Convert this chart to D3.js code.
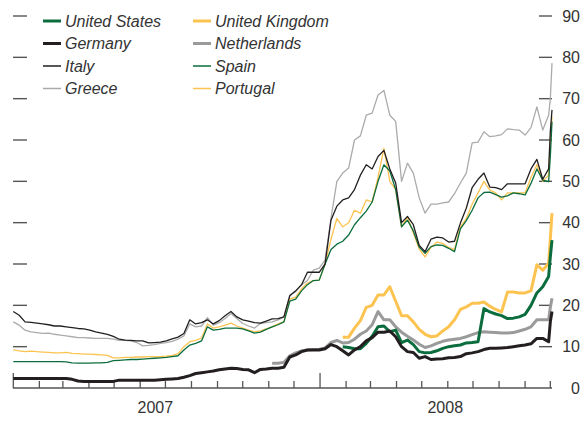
<!DOCTYPE html>
<html><head><meta charset="utf-8">
<script src="https://cdn.jsdelivr.net/npm/d3@7"></script>
<style>
html,body{margin:0;padding:0;background:#fff;}
svg{display:block;font-family:"Liberation Sans",Arial,Helvetica,sans-serif;}
</style></head>
<body><svg id="chart" width="586" height="422"></svg>
<script>
// Weekly observation dates (Mondays from 1 Jan 2007) plus the last days of the sample
const startDate = new Date(2007, 0, 1);
const weeklyDates = d3.range(92).map(i => d3.timeDay.offset(startDate, 7 * i));
const dates = weeklyDates.concat([new Date(2008, 9, 1), new Date(2008, 9, 3)]);

const greece = [16,15.2,14,13.6,13.4,13.2,13.3,13,12.8,12.6,
12.4,12.2,12.2,12.1,12,12,12,11.8,11.5,11.5,
11.4,11,10.2,10.3,10.5,10.8,11,11.3,11.8,12.6,
15.5,14.8,15,17,15.2,15.8,16.8,18,16.8,15.6,
15,14.5,15.6,15.8,16,16.5,17.2,22.5,23.3,25,
26,28.5,29,31,41,50,52,53.2,60,61,
66,66.5,70.9,72,66,64.5,50,54.4,52,46,
42.3,44.5,44.5,44.8,45,47,49.6,52,59.3,59.5,
62,60.8,61,61.3,62.7,62.5,62.4,61.2,63,68,
62.4,66,70,78.6];

const italy = [18.5,17.6,16,15.9,15.7,15.5,15.3,15,15,14.8,
14.6,14.4,14.3,14,13.6,13.3,13,12.5,11.8,11.6,
11.5,11.4,11.4,10.9,11,11.1,11.4,11.9,12.3,13.2,
16.5,15.5,15.8,16.5,15.5,16.3,17.5,18.5,17.2,16.5,
16.2,15.8,15.7,16.2,16.7,16.8,17.2,22.3,23.5,25,
28,28,28,30,40.6,44,45.5,46,48,51.5,
54,53,56,57.5,53,49.6,40,41.5,39.5,34.5,
33,36,36.5,36.3,35.3,35.5,39.9,43.5,48.5,50.5,
52,48.6,48.5,48,49.4,49.4,49.4,49.4,53,55.3,
50.5,53,62,67.3];

const portugal = [9.2,9.0,8.8,8.9,8.8,8.7,8.6,8.5,8.5,8.6,
8.4,8.3,8.2,8.2,8.1,8.0,7.9,7.3,7.3,7.4,
7.4,7.5,7.5,7.6,7.6,7.6,7.7,7.9,8.3,10,
11.2,11.5,12.1,15.5,14.5,14.8,15.2,15.7,15,14.5,
14,13.6,13.8,14.3,14.8,15.5,16,21.5,22,24,
25.4,26,26.1,30,36,41,39,40,43,42.3,
45.5,45,51,58,50,48,39,41.4,37.5,33.6,
31.7,34,35.3,35,34,33.5,39,41,44.5,47.2,
50,47.9,47.2,45.5,47.2,47.2,47.2,47.2,51,54,
50,51.5,60,65.6];

const spain = [6.4,6.4,6.4,6.4,6.4,6.4,6.4,6.4,6.4,6.3,
6.1,6.0,6.0,6.0,6.1,6.1,6.2,6.6,6.7,6.8,
6.9,6.9,7.0,7.1,7.2,7.3,7.4,7.6,7.8,9.2,
10.4,10.8,11.4,14.8,14,14.2,14.5,14.5,14.5,14.3,
13.8,13.3,13.5,14.2,14.8,15.3,16,21,21.5,23.5,
25,26,26.1,30,33.5,34.8,35.5,37,39.5,41.2,
42.8,45,50,54,52.5,48,39,40.6,38,34.1,
32.6,34.2,34.6,34.5,33.8,33,38.5,40.5,43,46,
47.3,47.4,46.8,46.2,46.5,47.2,47,46.7,49.5,53,
50.3,49.9,56,64.4];

const germany = [2.3,2.3,2.3,2.3,2.3,2.3,2.3,2.3,2.3,2.3,
2.1,1.7,1.6,1.6,1.6,1.6,1.6,1.6,1.9,1.9,
1.9,1.9,1.9,1.9,1.9,2.0,2.1,2.2,2.3,2.6,
3.0,3.5,3.7,3.9,4.1,4.4,4.6,4.8,4.7,4.5,
4.4,3.7,4.5,4.6,4.8,4.8,5,7.5,8,8.8,
9.2,9.2,9.2,9.5,10.5,10,9,8,9.2,10,
11.4,12.2,13.5,13.5,13.8,12.4,10,8.8,8.6,7.2,
7.6,6.9,7,7.1,7.3,7.4,7.6,8.3,8.5,8.8,
9.3,9.6,9.6,9.7,9.8,10,10.2,10.4,10.7,12,
12,11.2,16,18.5];

const N = null;
const netherlands = [N,N,N,N,N,N,N,N,N,N, N,N,N,N,N,N,N,N,N,N,
N,N,N,N,N,N,N,N,N,N, N,N,N,N,N,N,N,N,N,N,
N,N,N,N,6,6,6.2,7.8,8.5,9,
9.2,9.3,9.4,9.7,11,11.5,10.9,11,11.8,13,
13.8,15.3,18.5,16.5,16.5,14.8,13.5,12.5,11.6,10.6,
9.8,10.2,10.8,11.3,11.6,11.8,12,12.4,12.9,13.4,
13.6,13.5,13.4,13.3,13.3,13.4,13.8,14.2,14.8,16.5,
16.5,16.5,19.5,21.7];

const uk = [N,N,N,N,N,N,N,N,N,N, N,N,N,N,N,N,N,N,N,N,
N,N,N,N,N,N,N,N,N,N, N,N,N,N,N,N,N,N,N,N,
N,N,N,N,N,N,N,N,N,N, N,N,N,N,N,N,12.3,12.3,14.5,16.3,
19.5,20,22.5,22.5,24.5,21,17.5,17.5,16,14.2,
13,12.4,12.6,13.8,14.8,16.5,19,19.6,20.5,20.5,
20.8,19.8,19,18.4,23.2,23.2,23,23,23.5,29.8,
28.5,30.2,36,42.3];

const us = [N,N,N,N,N,N,N,N,N,N, N,N,N,N,N,N,N,N,N,N,
N,N,N,N,N,N,N,N,N,N, N,N,N,N,N,N,N,N,N,N,
N,N,N,N,N,N,N,N,N,N, N,N,N,N,N,N,10,9.8,9.5,9.5,
10.8,12.5,14.8,15,13.6,14,11,11.6,10.5,8.8,
8.5,8.6,9,9.6,10,10.2,10.4,10.9,11,11.2,
19.2,18.4,17.9,17.5,16.8,16.9,17.2,17.8,20,23,
24.5,27,31.7,35.8];

const yTicks = [0,10,20,30,40,50,60,70,80,90];
const yearLabels = ["2007","2008"];
const yearLabelDates = [new Date(2007,5,19), new Date(2008,4,29)];

const legendNames = ["United States","Germany","Italy","Greece","United Kingdom","Netherlands","Spain","Portugal"];

// styles
const GREEN = "#0b6d3d", YELLOW = "#fdc350", BLACK = "#231f20", GRAY = "#9a9a9a", LGRAY = "#ababab";
const series = [
  {name:"Greece", values:greece, color:LGRAY, w:1.3},
  {name:"Portugal", values:portugal, color:YELLOW, w:1.3},
  {name:"Spain", values:spain, color:GREEN, w:1.3},
  {name:"Italy", values:italy, color:BLACK, w:1.3},
  {name:"United Kingdom", values:uk, color:YELLOW, w:3},
  {name:"Netherlands", values:netherlands, color:GRAY, w:3},
  {name:"United States", values:us, color:GREEN, w:3},
  {name:"Germany", values:germany, color:BLACK, w:3}
];
const styleByName = {};
series.forEach(s => styleByName[s.name] = s);

const svg = d3.select("#chart");
const x = d3.scaleTime().domain([startDate, new Date(2008,9,3)]).range([13.3, 552]);
const y = d3.scaleLinear().domain([0, 90]).range([388, 16]);

// horizontal tick marks at both sides
const AX = "#555";
svg.append("g").selectAll("line.lt").data(yTicks.filter(d => d > 0)).join("line")
  .attr("x1", 13).attr("x2", 27).attr("y1", d => y(d)).attr("y2", d => y(d))
  .attr("stroke", AX).attr("stroke-width", 1.4);
svg.append("g").selectAll("line.rt").data(yTicks.filter(d => d > 0)).join("line")
  .attr("x1", 539).attr("x2", 552).attr("y1", d => y(d)).attr("y2", d => y(d))
  .attr("stroke", AX).attr("stroke-width", 1.4);
svg.append("g").selectAll("text").data(yTicks).join("text")
  .attr("x", 580).attr("y", d => y(d)).attr("dy", "0.36em")
  .attr("text-anchor", "end").attr("font-size", 16).attr("fill", "#333")
  .text(d => d);

// bottom axis
const months = d3.timeMonth.range(startDate, new Date(2008,9,3));
svg.append("line").attr("x1", 13).attr("x2", 552).attr("y1", 388).attr("y2", 388)
  .attr("stroke", AX).attr("stroke-width", 1.5);
svg.append("g").selectAll("line").data(months).join("line")
  .attr("x1", d => x(d)).attr("x2", d => x(d))
  .attr("y1", 388).attr("y2", d => d.getMonth() === 0 ? 373 : 381)
  .attr("stroke", AX).attr("stroke-width", 1.3);
svg.append("g").selectAll("text").data(yearLabels).join("text")
  .attr("x", (d, i) => x(yearLabelDates[i])).attr("y", 413)
  .attr("text-anchor", "middle").attr("font-size", 16).attr("fill", "#333")
  .text(d => d);

// lines
const line = d3.line()
  .defined(d => d.v !== null)
  .x(d => x(d.date)).y(d => y(d.v))
  .curve(d3.curveLinear);
svg.append("g").selectAll("path").data(series).join("path")
  .attr("fill", "none")
  .attr("stroke", s => s.color)
  .attr("stroke-width", s => s.w)
  .attr("stroke-linejoin", "round")
  .attr("d", s => line(dates.map((dt, i) => ({date: dt, v: s.values[i]}))));

// legend
const legend = svg.append("g");
legendNames.forEach((name, i) => {
  const col = Math.floor(i / 4), row = i % 4;
  const lx = col === 0 ? 43 : 193;
  const ly = 21 + row * 22.5;
  const st = styleByName[name];
  legend.append("line").attr("x1", lx).attr("x2", lx + 18).attr("y1", ly).attr("y2", ly)
    .attr("stroke", st.color).attr("stroke-width", st.w === 3 ? 3 : 1.5);
  legend.append("text").attr("x", lx + 22).attr("y", ly).attr("dy", "0.36em")
    .attr("font-size", 16).attr("font-style", "italic").attr("fill", "#333")
    .text(name);
});
</script></body></html>
